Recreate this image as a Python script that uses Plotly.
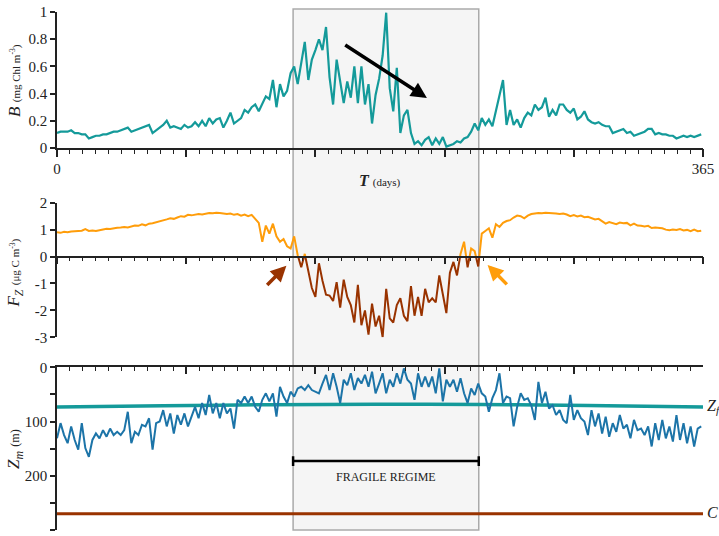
import plotly.graph_objects as go

# ---------------- data ----------------
DAYS = list(range(0, 365, 2))  # day of year, every 2 days

B_VALUES = [
    0.11, 0.12, 0.12, 0.12, 0.13, 0.11, 0.11, 0.10, 0.10, 0.07,
    0.08, 0.09, 0.09, 0.10, 0.10, 0.11, 0.12, 0.12, 0.13, 0.14,
    0.15, 0.12, 0.13, 0.14, 0.15, 0.16, 0.17, 0.11, 0.13, 0.15,
    0.17, 0.20, 0.15, 0.16, 0.15, 0.14, 0.17, 0.15, 0.16, 0.19,
    0.16, 0.20, 0.16, 0.22, 0.18, 0.21, 0.22, 0.15, 0.20, 0.26,
    0.18, 0.20, 0.22, 0.28, 0.26, 0.30, 0.32, 0.27, 0.32, 0.38,
    0.36, 0.50, 0.30, 0.47, 0.38, 0.42, 0.55, 0.60, 0.47, 0.62,
    0.78, 0.50, 0.65, 0.72, 0.80, 0.72, 0.89, 0.52, 0.32, 0.65,
    0.49, 0.33, 0.49, 0.37, 0.60, 0.33, 0.60, 0.32, 0.47, 0.18,
    0.39, 0.51, 0.68, 0.995, 0.44, 0.27, 0.59, 0.11, 0.24, 0.28,
    0.11, 0.03, 0.05, 0.02, 0.06, 0.08, 0.02, 0.07, 0.03, 0.08,
    0.01, 0.02, 0.03, 0.05, 0.04, 0.07, 0.08, 0.12, 0.18, 0.13,
    0.22, 0.17, 0.21, 0.16, 0.28, 0.38, 0.50, 0.17, 0.28, 0.17,
    0.21, 0.15, 0.22, 0.26, 0.24, 0.32, 0.28, 0.30, 0.37, 0.23,
    0.28, 0.24, 0.32, 0.32, 0.28, 0.26, 0.29, 0.21, 0.23, 0.27,
    0.21, 0.19, 0.18, 0.19, 0.17, 0.16, 0.16, 0.11, 0.12, 0.13,
    0.14, 0.11, 0.12, 0.09, 0.10, 0.11, 0.12, 0.14, 0.14, 0.10,
    0.11, 0.10, 0.10, 0.09, 0.09, 0.07, 0.08, 0.09, 0.08, 0.09,
    0.08, 0.09, 0.10,
]

FZ_VALUES = [
    0.90, 0.88, 0.92, 0.90, 0.93, 0.94, 0.93, 0.96, 1.02, 0.95,
    0.97, 0.95, 0.98, 1.00, 1.03, 1.02, 1.05, 1.07, 1.08, 1.10,
    1.08, 1.12, 1.15, 1.14, 1.20, 1.16, 1.22, 1.24, 1.27, 1.30,
    1.33, 1.38, 1.42, 1.40, 1.45, 1.50, 1.48, 1.55, 1.53, 1.56,
    1.58, 1.56, 1.60, 1.62, 1.61, 1.63, 1.62, 1.60, 1.58, 1.60,
    1.55, 1.58, 1.52, 1.56, 1.50, 1.55, 1.40, 1.25, 0.55, 1.15,
    0.85, 1.22, 0.75, 0.55, 0.65, 0.38, 0.30, 0.75, 0.05, -0.40,
    0.10, -0.60, -1.17, -1.50, -0.25, -0.90, -1.42, -1.45, -1.65, -0.95,
    -1.90, -0.86, -1.50, -1.80, -2.45, -1.05, -2.55, -2.00, -2.90, -1.75,
    -2.60, -2.20, -3.00, -1.20, -2.30, -2.45, -1.80, -1.55, -2.20, -2.40,
    -1.10, -2.20, -1.50, -2.20, -1.20, -1.70, -1.55, -1.70, -0.70, -1.40,
    -2.10, -0.60, -0.20, -0.70, 0.10, 0.55, -0.40, 0.30, 0.20, -0.37,
    0.85, 0.95, 1.05, 0.70, 1.20, 1.10, 1.25, 1.32, 1.35, 1.45,
    1.52, 1.50, 1.42, 1.52, 1.58, 1.60, 1.62, 1.61, 1.63, 1.62,
    1.62, 1.60, 1.58, 1.60, 1.56, 1.50, 1.54, 1.49, 1.52, 1.46,
    1.48, 1.42, 1.38, 1.40, 1.30, 1.22, 1.28, 1.24, 1.20, 1.26,
    1.24, 1.25, 1.16, 1.22, 1.15, 1.14, 1.12, 1.14, 1.06, 1.08,
    1.06, 1.05, 1.00, 0.98, 1.00, 0.99, 1.02, 0.97, 0.99, 0.94,
    1.00, 0.94, 0.96,
]

ZM_VALUES = [
    131, 103, 125, 140, 109, 134, 152, 103, 149, 165,
    134, 122, 131, 116, 128, 113, 125, 119, 125, 116,
    82, 140, 119, 125, 106, 109, 94, 152, 103, 100,
    79, 109, 85, 122, 88, 106, 85, 109, 91, 73,
    94, 66, 88, 51, 85, 66, 94, 66, 85, 76,
    113, 60, 66, 54, 66, 54, 73, 82, 60, 48,
    63, 48, 91, 36, 54, 66, 45, 54, 39, 36,
    42, 33, 42, 45, 48, 30, 14, 42, 11, 36,
    66, 23, 33, 11, 42, 20, 30, 14, 36, 8,
    48, 30, 11, 48, 23, 36, 11, 30, 2, 23,
    30, 60, 11, 36, 17, 36, 17, 48, 2, 63,
    23, 36, 23, 45, 20, 48, 66, 39, 51, 30,
    48, 54, 82, 57, 42, 11, 66, 54, 57, 109,
    73, 48, 60, 57, 70, 97, 27, 66, 45, 76,
    70, 88, 79, 97, 103, 51, 97, 79, 94, 100,
    125, 79, 109, 85, 122, 91, 128, 103, 119, 88,
    113, 106, 131, 97, 116, 113, 125, 109, 146, 103,
    134, 97, 131, 109, 137, 88, 134, 103, 140, 109,
    146, 113, 109,
]

ZF_DAYS = [0, 60, 120, 180, 240, 300, 365]
ZF_VALUES = [73, 71, 69, 68, 68.5, 70.5, 73]

C_DAYS = [0, 365]
C_VALUES = [270, 270]

FRAGILE_START = 133.4
FRAGILE_END = 238.3

X_MAJOR_TICKS = [0, 73, 146, 219, 292, 365]
X_LABEL_TICKS = [0, 365]
X_LABELS = ["0", "365"]
B_TICKS = [0, 0.2, 0.4, 0.6, 0.8, 1]
B_LABELS = ["0", "0.2", "0.4", "0.6", "0.8", "1"]
FZ_TICKS = [-3, -2, -1, 0, 1, 2]
FZ_LABELS = ["-3", "-2", "-1", "0", "1", "2"]
ZM_TICKS = [0, 100, 200, 300]
ZM_LABELS = ["0", "100", "200", "300"]

# ---------------- styles ----------------
FONT = "Liberation Serif"
TEAL = "#149a9a"
ORANGE = "#ff9d0a"
BROWN = "#993300"
BLUE = "#1c74a8"
AXC = "#222222"


def split_by_sign(xs, ys):
    px, py, nx, ny = [], [], [], []
    for i, (xi, yi) in enumerate(zip(xs, ys)):
        if i > 0:
            y0 = ys[i - 1]
            if (y0 >= 0) != (yi >= 0):
                xc = xs[i - 1] + (xi - xs[i - 1]) * y0 / (y0 - yi)
                if y0 >= 0:
                    px += [xc, None]; py += [0, None]
                    nx += [xc]; ny += [0]
                else:
                    nx += [xc, None]; ny += [0, None]
                    px += [xc]; py += [0]
        if yi >= 0:
            px.append(xi); py.append(yi)
        else:
            nx.append(xi); ny.append(yi)
    return px, py, nx, ny


pos_x, pos_y, neg_x, neg_y = split_by_sign(DAYS, FZ_VALUES)

fig = go.Figure()
fig.add_trace(go.Scatter(x=DAYS, y=B_VALUES, mode="lines",
                         line=dict(color=TEAL, width=2.2), xaxis="x", yaxis="y"))
# empty helper trace so the labelled overlay x-axis (0 / 365) is drawn
fig.add_trace(go.Scatter(x=[], y=[], mode="lines", xaxis="x4", yaxis="y"))
fig.add_trace(go.Scatter(x=pos_x, y=pos_y, mode="lines",
                         line=dict(color=ORANGE, width=2), xaxis="x2", yaxis="y2"))
fig.add_trace(go.Scatter(x=neg_x, y=neg_y, mode="lines",
                         line=dict(color=BROWN, width=2), xaxis="x2", yaxis="y2"))
fig.add_trace(go.Scatter(x=ZF_DAYS, y=ZF_VALUES, mode="lines",
                         line=dict(color=TEAL, width=3.5, shape="spline"),
                         xaxis="x3", yaxis="y3"))
fig.add_trace(go.Scatter(x=C_DAYS, y=C_VALUES, mode="lines",
                         line=dict(color=BROWN, width=3), xaxis="x3", yaxis="y3"))
fig.add_trace(go.Scatter(x=DAYS, y=ZM_VALUES, mode="lines",
                         line=dict(color=BLUE, width=2), xaxis="x3", yaxis="y3"))

tickfont = dict(family=FONT, size=15, color=AXC)


def minor_x(direction):
    return dict(dtick=7.3, tick0=0, ticklen=4, tickwidth=1.2, tickcolor=AXC,
                showgrid=False, ticks=direction)


def xaxis_common(**kw):
    d = dict(range=[0, 365], showline=True, linecolor=AXC, linewidth=1.5,
             tickvals=X_MAJOR_TICKS, ticklen=7, showticklabels=False,
             tickwidth=1.5, tickcolor=AXC, showgrid=False, zeroline=False,
             tickfont=tickfont, automargin=False, fixedrange=True)
    d.update(kw)
    return d


def yaxis_common(**kw):
    d = dict(showline=True, linecolor=AXC, linewidth=1.5, ticks="outside",
             ticklen=5, tickwidth=1.5, tickcolor=AXC, showgrid=False,
             zeroline=False, tickfont=tickfont, automargin=False, fixedrange=True)
    d.update(kw)
    return d


fig.update_layout(
    width=719, height=536,
    margin=dict(l=57, r=16, t=9, b=6),
    paper_bgcolor="white", plot_bgcolor="rgba(0,0,0,0)",
    showlegend=False, hovermode=False,
    font=dict(family=FONT, color=AXC),
    xaxis=xaxis_common(anchor="y", ticks="outside", minor=minor_x("outside")),
    xaxis4=dict(overlaying="x", anchor="y", side="bottom", range=[0, 365],
                tickvals=X_LABEL_TICKS, ticktext=X_LABELS, ticks="outside",
                ticklen=7, tickwidth=1.5, tickcolor=AXC, showline=False,
                showgrid=False, zeroline=False, tickfont=tickfont,
                automargin=False, fixedrange=True),
    xaxis2=xaxis_common(anchor="free", position=0.5249, ticks="outside",
                        minor=minor_x("outside")),
    xaxis3=xaxis_common(anchor="y3", side="top", ticks="inside",
                        minor=minor_x("inside")),
    yaxis=yaxis_common(domain=[0.7332, 0.9942], range=[0, 1], anchor="x",
                       tickvals=B_TICKS, ticktext=B_LABELS),
    yaxis2=yaxis_common(domain=[0.3699, 0.6282], range=[-3, 2], anchor="x2",
                        tickvals=FZ_TICKS, ticktext=FZ_LABELS),
    yaxis3=yaxis_common(domain=[0, 0.3123], range=[300, 0], anchor="x3",
                        tickvals=ZM_TICKS, ticktext=ZM_LABELS,
                        minor=dict(dtick=50, tick0=0, ticks="outside", ticklen=5,
                                   tickwidth=1.5, tickcolor=AXC, showgrid=False)),
)

# shaded fragile regime
fig.add_shape(type="rect", xref="x", yref="paper", x0=FRAGILE_START, x1=FRAGILE_END,
              y0=0, y1=1, fillcolor="#f5f5f5", line=dict(color="#aaaaaa", width=1.5),
              layer="below")

# bracket in bottom panel
fig.add_shape(type="line", xref="x3", yref="y3", x0=FRAGILE_START, x1=FRAGILE_END,
              y0=173, y1=173, line=dict(color="black", width=2.5))
for xe in (FRAGILE_START, FRAGILE_END):
    fig.add_shape(type="line", xref="x3", yref="y3", x0=xe, x1=xe,
                  y0=164, y1=182, line=dict(color="black", width=2.5))

ann = []
ann.append(dict(xref="x3", yref="y3", x=(FRAGILE_START + FRAGILE_END) / 2, y=202,
                text="FRAGILE REGIME", showarrow=False,
                font=dict(family=FONT, size=12, color=AXC)))
# axis titles
title_common = dict(xref="paper", yref="paper", x=-0.065, textangle=-90,
                    xanchor="center", yanchor="middle", showarrow=False,
                    font=dict(family=FONT, size=17, color=AXC))
ann.append(dict(title_common, y=0.862,
                text="<i>B</i> <span style='font-size:11px'>(mg Chl m<sup>-3</sup>)</span>"))
ann.append(dict(title_common, y=0.4923,
                text="<i>F<sub>Z</sub></i> <span style='font-size:11px'>(μg C m<sup>-3</sup>)</span>"))
ann.append(dict(title_common, y=0.1555,
                text="<i>Z<sub>m</sub></i> <span style='font-size:12px'>(m)</span>"))
ann.append(dict(xref="x", yref="paper", x=182.5, y=0.691,
                text="<b><i>T</i></b> <span style='font-size:11px'>(days)</span>",
                showarrow=False, font=dict(family=FONT, size=16, color=AXC)))
# right labels
ann.append(dict(xref="paper", yref="y3", x=1.003, y=72.6, xanchor="left",
                text="<i>Z<sub>f</sub></i>", showarrow=False,
                font=dict(family=FONT, size=16, color=AXC)))
ann.append(dict(xref="paper", yref="y3", x=1.003, y=268, xanchor="left",
                text="<i>C</i>", showarrow=False,
                font=dict(family=FONT, size=16, color=AXC)))
# arrows
ann.append(dict(xref="x", yref="y", axref="x", ayref="y", x=209, y=0.368,
                ax=162, ay=0.765, text="", showarrow=True, arrowhead=2,
                arrowsize=0.9, arrowwidth=3.5, arrowcolor="black"))
ann.append(dict(xref="x2", yref="y2", axref="x2", ayref="y2", x=129.6, y=-0.34,
                ax=117.9, ay=-1.11, text="", showarrow=True, arrowhead=2,
                arrowsize=0.9, arrowwidth=3.5, arrowcolor=BROWN))
ann.append(dict(xref="x2", yref="y2", axref="x2", ayref="y2", x=243.3, y=-0.31,
                ax=255.0, ay=-1.09, text="", showarrow=True, arrowhead=2,
                arrowsize=0.9, arrowwidth=3.5, arrowcolor=ORANGE))
fig.update_layout(annotations=ann)

fig.write_html("out.html", config={"displayModeBar": False},
               post_script="document.body.style.margin='0';")
